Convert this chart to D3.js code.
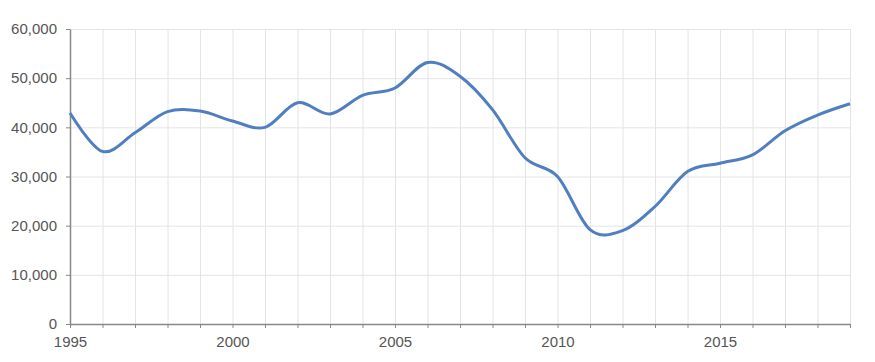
<!DOCTYPE html>
<html>
<head>
<meta charset="utf-8">
<script src="https://cdn.jsdelivr.net/npm/d3@7"></script>
<style>
  html, body { margin: 0; padding: 0; background: #fff; }
  svg { display: block; }
  .axis text { font-family: "Liberation Sans", Arial, sans-serif; font-size: 15px; fill: #555; }
  .axis path, .axis line { stroke: #888; }
  .grid line { stroke: #e4e4e4; }
  .grid path { display: none; }
</style>
</head>
<body>
<div id="chart"></div>
<script>
var years  = [1995, 1996, 1997, 1998, 1999, 2000, 2001, 2002, 2003, 2004, 2005, 2006,
              2007, 2008, 2009, 2010, 2011, 2012, 2013, 2014, 2015, 2016, 2017, 2018, 2019];
var values = [42900, 35100, 38900, 43200, 43300, 41300, 40000, 45000, 42700, 46500, 48000, 53200,
              50400, 43600, 33800, 30000, 19200, 19000, 23900, 31000, 32700, 34400, 39300, 42500, 44800];
var yTicks = [0, 10000, 20000, 30000, 40000, 50000, 60000];
var xLabels = [1995, 2000, 2005, 2010, 2015];

var W = 875, H = 362;
var margin = {top: 29, right: 25, bottom: 38, left: 70};
var width  = W - margin.left - margin.right;
var height = H - margin.top - margin.bottom;

var x = d3.scaleLinear().domain([1995, 2019]).range([0, width]);
var y = d3.scaleLinear().domain([0, 60000]).range([height, 0]);

var svg = d3.select("#chart").append("svg")
  .attr("width", W)
  .attr("height", H)
  .append("g")
  .attr("transform", "translate(" + margin.left + "," + margin.top + ")");

// grid
svg.append("g")
  .attr("class", "grid")
  .call(d3.axisLeft(y).tickValues(yTicks).tickSize(-width).tickFormat(""));

svg.append("g")
  .attr("class", "grid")
  .attr("transform", "translate(0," + height + ")")
  .call(d3.axisBottom(x).tickValues(years).tickSize(-height).tickFormat(""));

// axes
svg.append("g")
  .attr("class", "axis")
  .call(d3.axisLeft(y).tickValues(yTicks).tickSize(4).tickSizeOuter(0).tickPadding(9)
    .tickFormat(d3.format(",")));

svg.append("g")
  .attr("class", "axis")
  .attr("transform", "translate(0," + height + ")")
  .call(d3.axisBottom(x).tickValues(years).tickSize(4).tickSizeOuter(0).tickPadding(8)
    .tickFormat(function(d) { return xLabels.indexOf(d) >= 0 ? d : ""; }));

svg.selectAll(".axis .domain").attr("stroke-width", 1.5);

// line
var line = d3.line()
  .x(function(d, i) { return x(years[i]); })
  .y(function(d) { return y(d); })
  .curve(d3.curveCardinal.tension(0));

svg.append("path")
  .datum(values)
  .attr("fill", "none")
  .attr("stroke", "#4f7fc0")
  .attr("stroke-width", 3)
  .attr("stroke-linejoin", "round")
  .attr("d", line);
</script>
</body>
</html>
